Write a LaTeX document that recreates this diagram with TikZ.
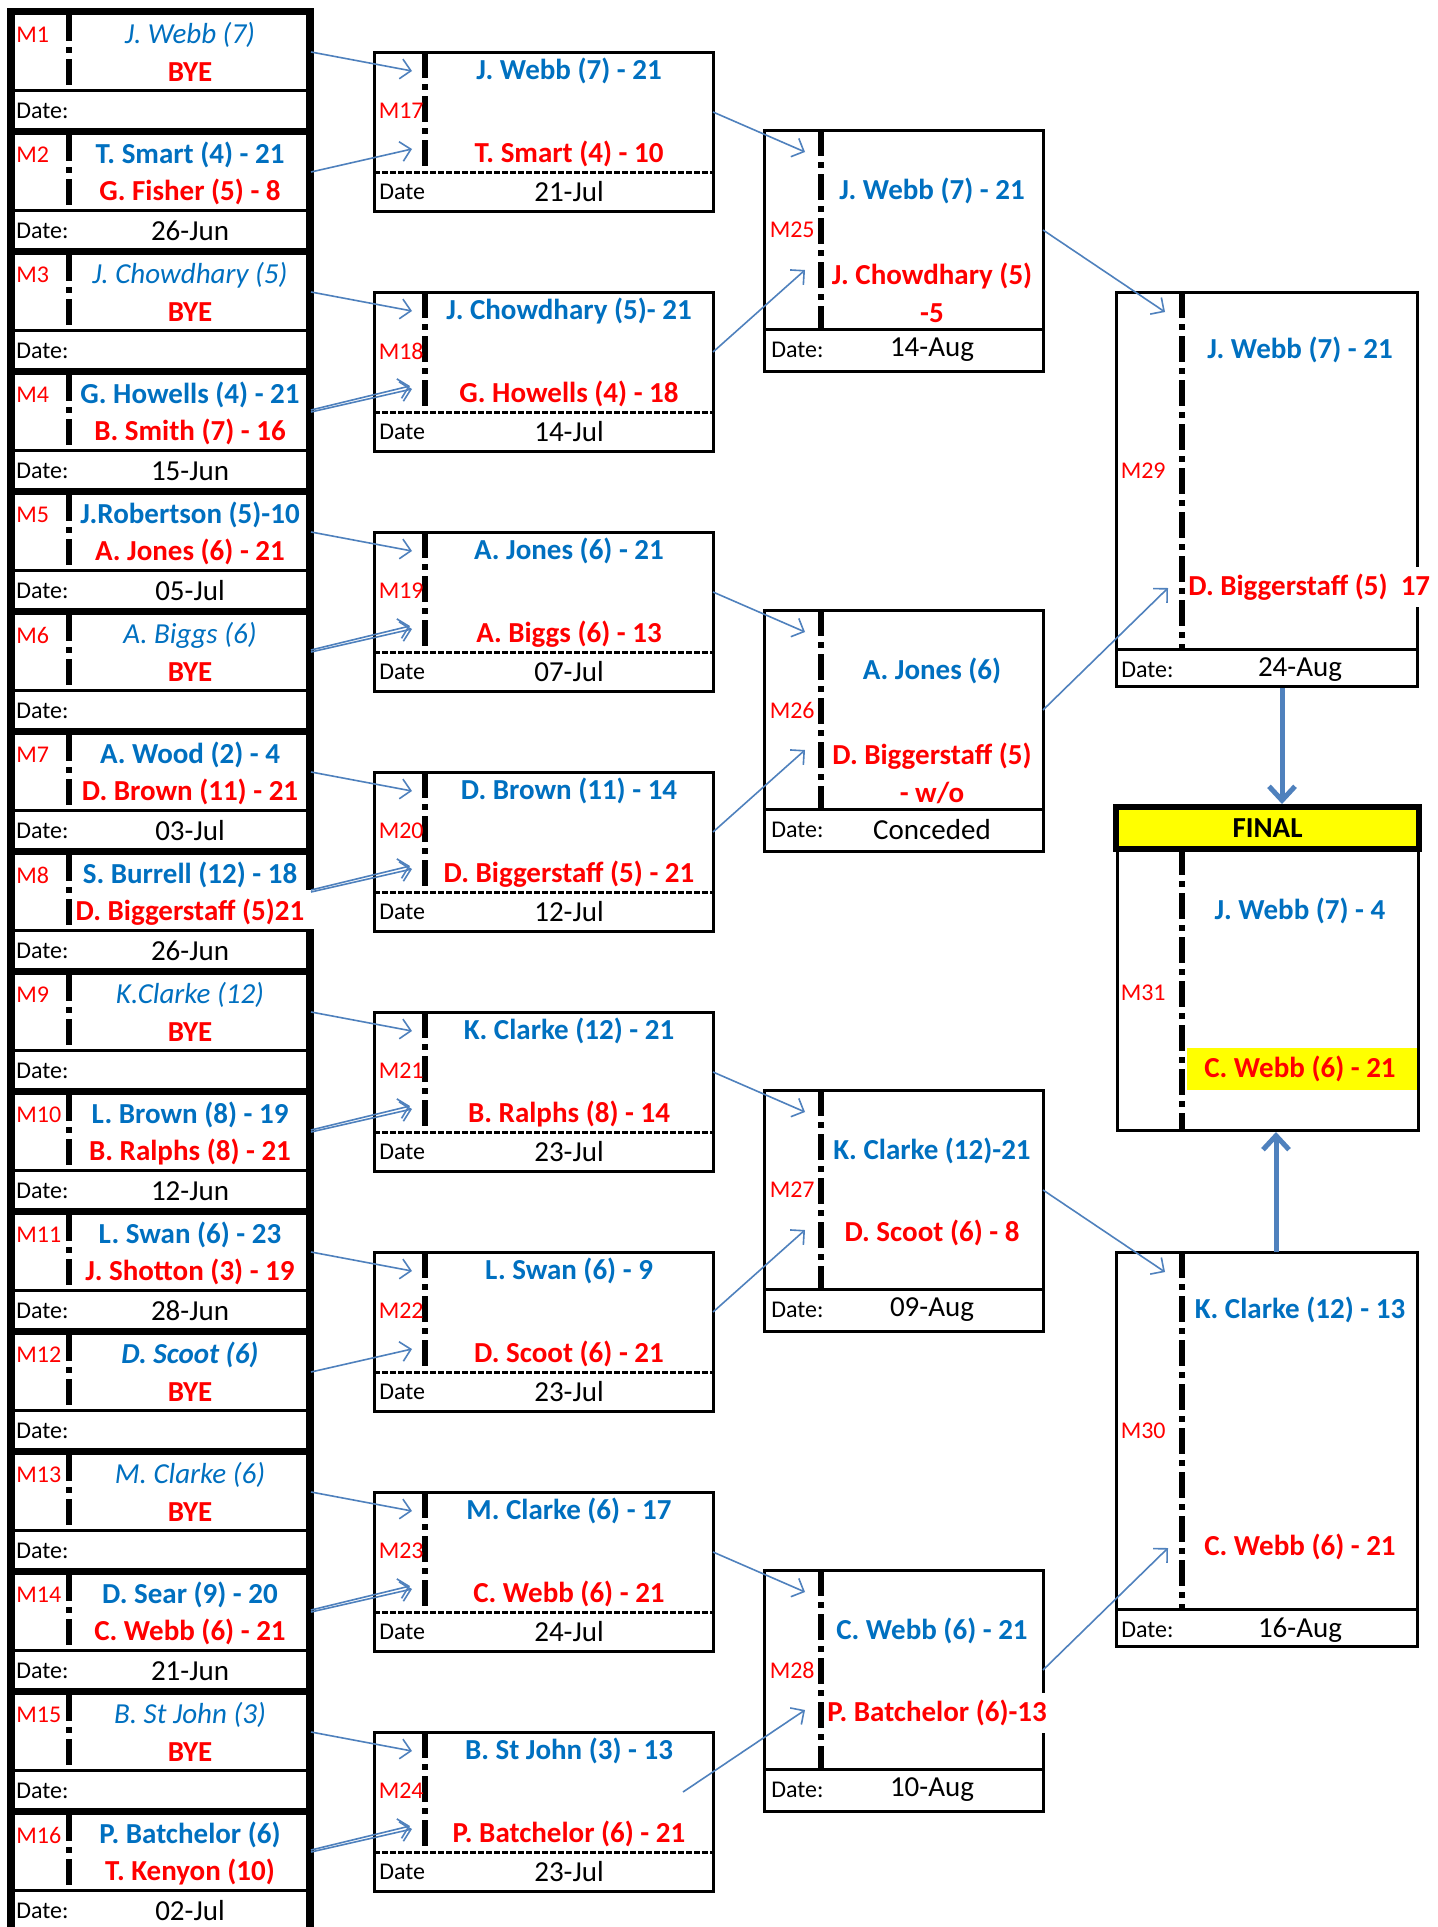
\documentclass[tikz,border=0pt]{standalone}
\usepackage{fontspec}
\setmainfont{Carlito}
\usetikzlibrary{arrows.meta}

\definecolor{mblue}{HTML}{0070C0}
\definecolor{mred}{HTML}{FF0000}
\definecolor{linkblue}{HTML}{4F81BD}
\definecolor{hilite}{HTML}{FFFF00}

\newcommand{\namefont}{\fontsize{14.5}{19}\selectfont}
\newcommand{\smallfont}{\fontsize{12}{14}\selectfont}

% first round: number, top, style of first player, first player, second player, date
\newcommand{\firstround}[6]{%
  \fill[white] (15,#2) rectangle (306,{#2+74});
  \fill[white] (15,{#2+77}) rectangle (306,{#2+113});
  \draw[divider] (69,#2) -- (69,{#2+74});
  \node[mlabel, anchor=west] (m#1-lbl) at (16,{#2+20}) {M#1};
  \node[#3] (m#1-a) at (190,{#2+20}) {#4};
  \node[lose] (m#1-b) at (190,{#2+57}) {#5};
  \node[datelbl] (m#1-dl) at (16,{#2+96}) {Date:};
  \node[dateval] (m#1-dv) at (190,{#2+96}) {#6};
  \coordinate (m#1-out) at (311,{#2+37});
}

% second round: number, top, first player, second player, date
\newcommand{\secondround}[5]{%
  \draw[boxline] (374,#2) rectangle (713,{#2+159});
  \draw[dateline] (374,{#2+120}) -- (713,{#2+120});
  \draw[divider] (425,#2) -- (425,{#2+120});
  \node[mlabel, anchor=east] (m#1-lbl) at (424,{#2+59}) {M#1};
  \node[win] (m#1-a) at (569,{#2+19}) {#3};
  \node[lose] (m#1-b) at (569,{#2+102}) {#4};
  \node[datelbl] (m#1-dl) at (379,{#2+140}) {Date};
  \node[dateval] (m#1-dv) at (569,{#2+140}) {#5};
  \coordinate (m#1-in1) at (412,{#2+19});
  \coordinate (m#1-in2) at (412,{#2+97});
  \coordinate (m#1-out) at (713,{#2+60});
}

% third round: number, top, first player, second player, date, extra for second player
\newcommand{\thirdround}[6]{%
  \draw[boxline] (764,#2) rectangle (1043,{#2+241});
  \draw[boxline] (764,{#2+199}) -- (1043,{#2+199});
  \draw[divider] (821,#2) -- (821,{#2+199});
  \node[mlabel, anchor=east] (m#1-lbl) at (815,{#2+100}) {M#1};
  \node[win] (m#1-a) at (932,{#2+61}) {#3};
  \node[lose, #6] (m#1-b) at (932,{#2+143}) {#4};
  \node[datelbl] (m#1-dl) at (771,{#2+220}) {Date:};
  \node[dateval] (m#1-dv) at (932,{#2+220}) {#5};
  \coordinate (m#1-in1) at (805,{#2+22});
  \coordinate (m#1-in2) at (805,{#2+140});
  \coordinate (m#1-out) at (1043,{#2+100});
}

% semi final: number, top, first player, second player, date, extra for second player
\newcommand{\fourthround}[6]{%
  \draw[boxline] (1116,#2) rectangle (1417,{#2+394});
  \draw[boxline] (1116,{#2+357}) -- (1417,{#2+357});
  \draw[divider] (1182,#2) -- (1182,{#2+357});
  \node[mlabel, anchor=east] (m#1-lbl) at (1166,{#2+179}) {M#1};
  \node[win] (m#1-a) at (1300,{#2+58}) {#3};
  \node[lose, #6] (m#1-b) at (1300,{#2+295}) {#4};
  \node[datelbl] (m#1-dl) at (1121,{#2+378}) {Date:};
  \node[dateval] (m#1-dv) at (1300,{#2+378}) {#5};
  \coordinate (m#1-in1) at (1165,{#2+20});
  \coordinate (m#1-in2) at (1168,{#2+296});
}

\begin{document}
\begin{tikzpicture}[x=0.5pt, y=-0.5pt,
  boxline/.style={draw=black, line width=1.5pt},
  divider/.style={line width=2.8pt, dash pattern=on 13pt off 3pt on 3pt off 3pt},
  dateline/.style={line width=1.5pt, dash pattern=on 3pt off 1pt},
  mlabel/.style={text=mred, font=\smallfont, inner sep=0pt},
  win/.style={text=mblue, font=\namefont\bfseries},
  lose/.style={text=mred, font=\namefont\bfseries},
  bye/.style={text=mblue, font=\namefont\itshape},
  byebold/.style={text=mblue, font=\namefont\bfseries\itshape},
  datelbl/.style={font=\smallfont, anchor=west, inner sep=0pt},
  dateval/.style={font=\namefont},
  feedarrow/.style={draw=linkblue, line width=0.8pt, -{Straight Barb[length=5pt, width=10pt]}},
  finalarrow/.style={draw=linkblue, line width=2.5pt, -{Straight Barb[length=7pt, width=13pt]}}]

  \fill[white] (0,0) rectangle (1438,1927);
  \useasboundingbox (0,0) rectangle (1438,1927);

  % first round column
  \fill[black] (7,8) rectangle (314,1927);
  \firstround{1}{15}{bye}{J. Webb (7)}{BYE}{}
  \firstround{2}{135}{win}{T. Smart (4) - 21}{G. Fisher (5) - 8}{26-Jun}
  \firstround{3}{255}{bye}{J. Chowdhary (5)}{BYE}{}
  \firstround{4}{375}{win}{G. Howells (4) - 21}{B. Smith (7) - 16}{15-Jun}
  \firstround{5}{495}{win}{J.Robertson (5)-10}{A. Jones (6) - 21}{05-Jul}
  \firstround{6}{615}{bye}{A. Biggs (6)}{BYE}{}
  \firstround{7}{735}{win}{A. Wood (2) - 4}{D. Brown (11) - 21}{03-Jul}
  \fill[white] (306,890) rectangle (314,929);
  \firstround{8}{855}{win}{S. Burrell (12) - 18}{D. Biggerstaff (5)21}{26-Jun}
  \firstround{9}{975}{bye}{K.Clarke (12)}{BYE}{}
  \firstround{10}{1095}{win}{L. Brown (8) - 19}{B. Ralphs (8) - 21}{12-Jun}
  \firstround{11}{1215}{win}{L. Swan (6) - 23}{J. Shotton (3) - 19}{28-Jun}
  \firstround{12}{1335}{byebold}{D. Scoot (6)}{BYE}{}
  \firstround{13}{1455}{bye}{M. Clarke (6)}{BYE}{}
  \firstround{14}{1575}{win}{D. Sear (9) - 20}{C. Webb (6) - 21}{21-Jun}
  \firstround{15}{1695}{bye}{B. St John (3)}{BYE}{}
  \firstround{16}{1815}{win}{P. Batchelor (6)}{T. Kenyon (10)}{02-Jul}

  % second round
  \secondround{17}{52}{J. Webb (7) - 21}{T. Smart (4) - 10}{21-Jul}
  \secondround{18}{292}{J. Chowdhary (5)- 21}{G. Howells (4) - 18}{14-Jul}
  \secondround{19}{532}{A. Jones (6) - 21}{A. Biggs (6) - 13}{07-Jul}
  \secondround{20}{772}{D. Brown (11) - 14}{D. Biggerstaff (5) - 21}{12-Jul}
  \secondround{21}{1012}{K. Clarke (12) - 21}{B. Ralphs (8) - 14}{23-Jul}
  \secondround{22}{1252}{L. Swan (6) - 9}{D. Scoot (6) - 21}{23-Jul}
  \secondround{23}{1492}{M. Clarke (6) - 17}{C. Webb (6) - 21}{24-Jul}
  \secondround{24}{1732}{B. St John (3) - 13}{P. Batchelor (6) - 21}{23-Jul}

  % quarter finals
  \thirdround{25}{130}{J. Webb (7) - 21}{J. Chowdhary (5)\\-5}{14-Aug}{align=center, yshift=-10pt}
  \thirdround{26}{610}{A. Jones (6)}{D. Biggerstaff (5)\\- w/o}{Conceded}{align=center, yshift=-10pt}
  \thirdround{27}{1090}{K. Clarke (12)-21}{D. Scoot (6) - 8}{09-Aug}{}
  \thirdround{28}{1570}{C. Webb (6) - 21}{P. Batchelor (6)-13}{10-Aug}{anchor=west, xshift=-53pt, fill=white, inner xsep=0.5pt}

  % semi finals
  \fourthround{29}{292}{J. Webb (7) - 21}{D. Biggerstaff (5)\ \ 17}{24-Aug}{anchor=west, xshift=-56.5pt, fill=white, inner xsep=0.5pt}
  \fourthround{30}{1252}{K. Clarke (12) - 13}{C. Webb (6) - 21}{16-Aug}{}

  % final
  \node[draw=black, line width=3pt, fill=hilite, minimum width=151.5pt, minimum height=21pt,
        inner sep=0pt, font=\namefont\bfseries] (final) at (1267.5,828) {FINAL};
  \fill[hilite] (1187,1048) rectangle (1417,1090);
  \node[boxline, minimum width=150.5pt, minimum height=140pt, anchor=north west] (m31) at (1116,849) {};
  \draw[divider] (1182,849) -- (1182,1129);
  \node[mlabel, anchor=east] (m31-lbl) at (1166,993) {M31};
  \node[win] (m31-a) at (1300,911) {J. Webb (7) - 4};
  \node[lose] (m31-b) at (1300,1069) {C. Webb (6) - 21};

  % first round to second round
  \draw[feedarrow] (m1-out) -- (m17-in1);
  \draw[feedarrow] (m2-out) -- (m17-in2);
  \draw[feedarrow] (m3-out) -- (m18-in1);
  \draw[feedarrow] (m4-out) -- (m18-in2);
  \draw[feedarrow] ([yshift=1pt]m4-out) -- ([xshift=-1pt, yshift=1.5pt]m18-in2);
  \draw[feedarrow] (m5-out) -- (m19-in1);
  \draw[feedarrow] (m6-out) -- (m19-in2);
  \draw[feedarrow] ([yshift=1pt]m6-out) -- ([xshift=-1pt, yshift=1.5pt]m19-in2);
  \draw[feedarrow] (m7-out) -- (m20-in1);
  \draw[feedarrow] (m8-out) -- (m20-in2);
  \draw[feedarrow] ([yshift=1pt]m8-out) -- ([xshift=-1pt, yshift=1.5pt]m20-in2);
  \draw[feedarrow] (m9-out) -- (m21-in1);
  \draw[feedarrow] (m10-out) -- (m21-in2);
  \draw[feedarrow] ([yshift=1pt]m10-out) -- ([xshift=-1pt, yshift=1.5pt]m21-in2);
  \draw[feedarrow] (m11-out) -- (m22-in1);
  \draw[feedarrow] (m12-out) -- (m22-in2);
  \draw[feedarrow] (m13-out) -- (m23-in1);
  \draw[feedarrow] (m14-out) -- (m23-in2);
  \draw[feedarrow] ([yshift=1pt]m14-out) -- ([xshift=-1pt, yshift=1.5pt]m23-in2);
  \draw[feedarrow] (m15-out) -- (m24-in1);
  \draw[feedarrow] (m16-out) -- (m24-in2);
  \draw[feedarrow] ([yshift=1pt]m16-out) -- ([xshift=-1pt, yshift=1.5pt]m24-in2);

  % second round to quarter finals
  \draw[feedarrow] (m17-out) -- (m25-in1);
  \draw[feedarrow] (m18-out) -- (m25-in2);
  \draw[feedarrow] (m19-out) -- (m26-in1);
  \draw[feedarrow] (m20-out) -- (m26-in2);
  \draw[feedarrow] (m21-out) -- (m27-in1);
  \draw[feedarrow] (m22-out) -- (m27-in2);
  \draw[feedarrow] (m23-out) -- (m28-in1);
  \draw[feedarrow] ([xshift=-15pt]m24-out) -- (m28-in2);

  % quarter finals to semi finals
  \draw[feedarrow] (m25-out) -- (m29-in1);
  \draw[feedarrow] (m26-out) -- (m29-in2);
  \draw[feedarrow] (m27-out) -- (m30-in1);
  \draw[feedarrow] (m28-out) -- (m30-in2);

  % into the final
  \coordinate (m29-down) at (1282,688);
  \coordinate (m30-up) at (1276,1252);
  \draw[finalarrow] (m29-down) -- (final.north -| m29-down);
  \draw[finalarrow] (m30-up) -- (m31.south -| m30-up);
\end{tikzpicture}
\end{document}
